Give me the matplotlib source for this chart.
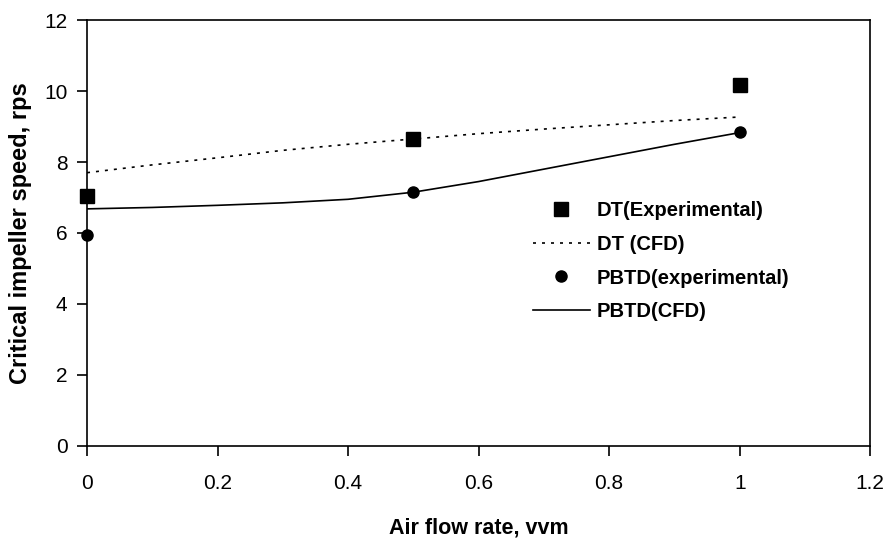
import matplotlib
matplotlib.use("Agg")
import matplotlib.pyplot as plt

plt.rcParams['font.family'] = ['Liberation Sans', 'DejaVu Sans']

# experimental points
air_exp = [0, 0.5, 1.0]
dt_exp = [7.05, 8.65, 10.17]
pbtd_exp = [5.95, 7.15, 8.85]

# CFD curves
air_cfd = [0, 0.1, 0.2, 0.3, 0.4, 0.5, 0.6, 0.7, 0.8, 0.9, 1.0]
dt_cfd = [7.7, 7.92, 8.12, 8.33, 8.5, 8.65, 8.8, 8.93, 9.05, 9.17, 9.27]
pbtd_cfd = [6.68, 6.72, 6.78, 6.85, 6.95, 7.15, 7.45, 7.8, 8.15, 8.5, 8.83]

fig = plt.figure(figsize=(8.88, 5.45), dpi=100)
ax = fig.add_axes([0.098, 0.182, 0.882, 0.781])

ax.plot(air_exp, dt_exp, 's', color='black', markersize=10, label='DT(Experimental)', clip_on=False, zorder=5)
ax.plot(air_cfd, dt_cfd, color='black', linewidth=1.2, dashes=(1.8, 3.6), label='DT (CFD)')
ax.plot(air_exp, pbtd_exp, 'o', color='black', markersize=8, label='PBTD(experimental)', clip_on=False, zorder=5)
ax.plot(air_cfd, pbtd_cfd, '-', color='black', linewidth=1.2, label='PBTD(CFD)')

ax.set_xlim(0, 1.2)
ax.set_ylim(0, 12)
ax.set_xticks([0, 0.2, 0.4, 0.6, 0.8, 1.0, 1.2])
ax.set_xticklabels(['0', '0.2', '0.4', '0.6', '0.8', '1', '1.2'])
ax.set_yticks([0, 2, 4, 6, 8, 10, 12])
ax.tick_params(direction='out', length=7, width=1.2, labelsize=15)
ax.tick_params(axis='x', pad=13)
ax.tick_params(axis='y', pad=7)
for s in ax.spines.values():
    s.set_linewidth(1.2)

ax.set_xlabel('Air flow rate, vvm', fontsize=15.5, fontweight='bold', labelpad=18)
ax.set_ylabel('Critical impeller speed, rps', fontsize=17, fontweight='bold', labelpad=9)

leg = ax.legend(loc='upper left', bbox_to_anchor=(0.600, 0.631), bbox_transform=fig.transFigure,
                frameon=False, prop={'size': 14.5, 'weight': 'bold'}, handlelength=2.83,
                labelspacing=0.73, handletextpad=0.35, borderpad=0, borderaxespad=0)

fig.savefig('out.png', dpi=100)
